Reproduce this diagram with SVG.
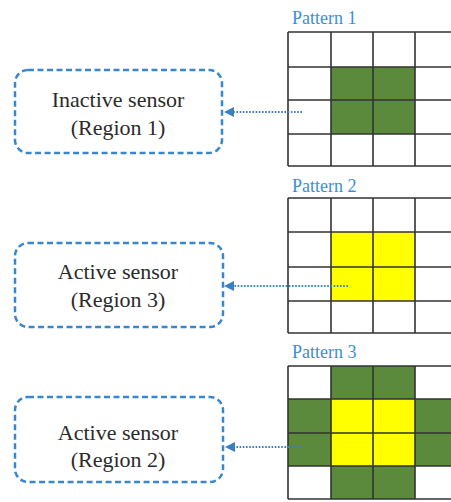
<svg xmlns="http://www.w3.org/2000/svg" width="451" height="502" viewBox="0 0 451 502">
  <style>
    .box { fill: #ffffff; stroke: #3a86cc; stroke-width: 2.5; stroke-dasharray: 6 3.5; }
    .label { font-family: "Liberation Serif", "Times New Roman", serif; font-size: 22px; fill: #2b2b2b; text-anchor: middle; }
    .ptitle { font-family: "Liberation Serif", "Times New Roman", serif; font-size: 18px; fill: #3a8fd8; }
    .grid { fill: none; stroke: #333333; stroke-width: 1.6; }
    .g { fill: #5b8a3c; }
    .y { fill: #ffff00; }
    .link { fill: none; stroke: #3a7fc4; stroke-width: 2; stroke-dasharray: 1.6 1.6; }
  </style>
  <defs>
    <marker id="head" markerWidth="10" markerHeight="10" refX="0" refY="5" orient="auto" markerUnits="userSpaceOnUse">
      <path d="M0,5 L10,0 L10,10 Z" fill="#3a7fc4"/>
    </marker>
  </defs>
  <rect width="451" height="502" fill="#ffffff"/>

  <!-- Pattern 1: 4x4 grid with inactive centre -->
  <g id="pattern1">
    <text class="ptitle" x="292" y="24">Pattern 1</text>
    <rect class="g" x="331" y="67" width="84" height="67"/>
    <path class="grid" d="M288,32 H460 M288,67 H460 M288,100 H460 M288,134 H460 M288,166 H460 M288,32 V166 M331,32 V166 M373,32 V166 M415,32 V166"/>
  </g>

  <!-- Pattern 2: active centre -->
  <g id="pattern2">
    <text class="ptitle" x="292" y="192">Pattern 2</text>
    <rect class="y" x="331" y="232" width="84" height="69"/>
    <path class="grid" d="M288,198 H460 M288,232 H460 M288,267 H460 M288,301 H460 M288,333 H460 M288,198 V333 M331,198 V333 M373,198 V333 M415,198 V333"/>
  </g>

  <!-- Pattern 3: active centre with inactive ring -->
  <g id="pattern3">
    <text class="ptitle" x="292" y="358">Pattern 3</text>
    <rect class="g" x="331" y="366" width="84" height="133"/>
    <rect class="g" x="288" y="399" width="172" height="67"/>
    <rect class="y" x="331" y="399" width="84" height="67"/>
    <path class="grid" d="M288,366 H460 M288,399 H460 M288,433 H460 M288,466 H460 M288,499 H460 M288,366 V499 M331,366 V499 M373,366 V499 M415,366 V499"/>
  </g>

  <g id="box1">
    <rect class="box" x="15" y="70" width="207" height="83" rx="13"/>
    <text class="label" x="118" y="107">Inactive sensor</text>
    <text class="label" x="118" y="135">(Region 1)</text>
  </g>
  <g id="box2">
    <rect class="box" x="15" y="243" width="208" height="84" rx="13"/>
    <text class="label" x="118" y="279">Active sensor</text>
    <text class="label" x="118" y="307">(Region 3)</text>
  </g>
  <g id="box3">
    <rect class="box" x="15" y="397" width="208" height="85" rx="13"/>
    <text class="label" x="118" y="440">Active sensor</text>
    <text class="label" x="118" y="467">(Region 2)</text>
  </g>

  <g id="connectors">
    <line class="link" x1="302" y1="112" x2="233" y2="112"/>
    <path d="M224,112 L234,107 L234,117 Z" fill="#3a7fc4"/>
    <line class="link" x1="348" y1="286" x2="233" y2="286"/>
    <path d="M224,286 L234,281 L234,291 Z" fill="#3a7fc4"/>
    <line class="link" x1="302" y1="447" x2="234" y2="447"/>
    <path d="M225,447 L235,442 L235,452 Z" fill="#3a7fc4"/>
  </g>
</svg>
